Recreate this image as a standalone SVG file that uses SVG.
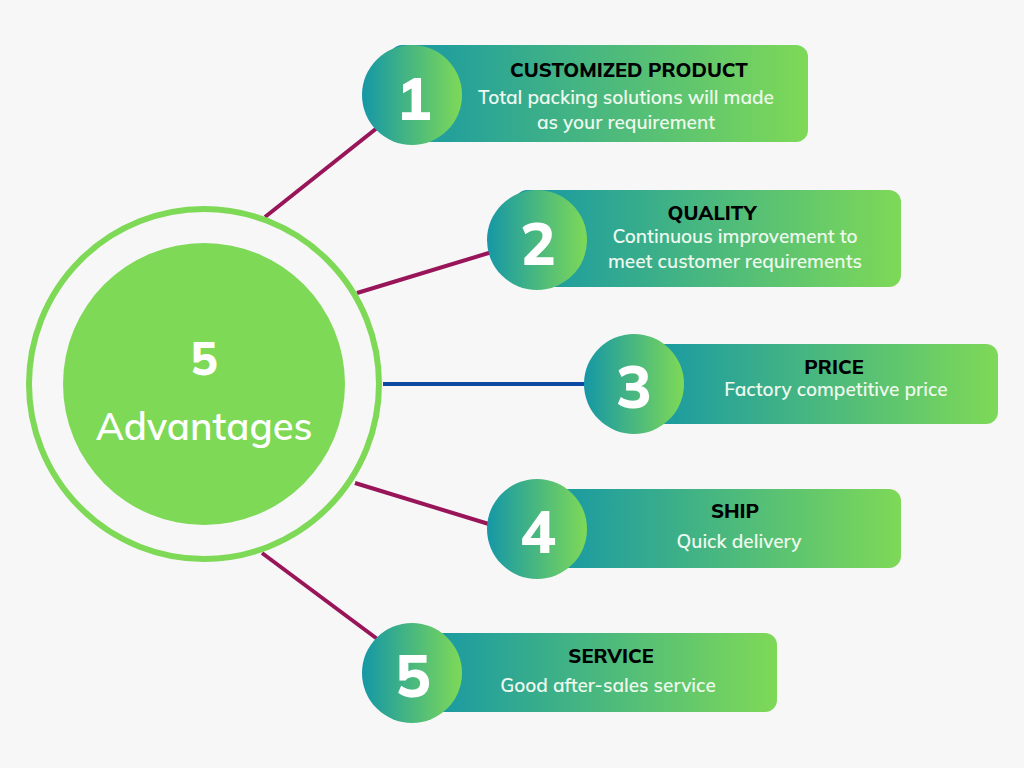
<svg xmlns="http://www.w3.org/2000/svg" width="1024" height="768" viewBox="0 0 1024 768">
<defs>
<linearGradient id="g" x1="0" y1="0" x2="1" y2="0"><stop offset="0" stop-color="#1597a6"/><stop offset="1" stop-color="#7ed957"/></linearGradient>
<style>
.t{font-family:Mulish,"Open Sans","Noto Sans",sans-serif;text-anchor:middle}
.h{font-size:20px;font-weight:800;fill:#000}
.d{font-size:19px;font-weight:600;fill:#eef9ee}
.n{font-size:60px;font-weight:800;fill:#fff}
.c{stroke-width:4;fill:none}
</style>
</defs>
<rect width="1024" height="768" fill="#f7f7f7"/>
<g id="connectors">
<line class="c" stroke="#98155a" x1="265" y1="217" x2="382" y2="124"/>
<line class="c" stroke="#98155a" x1="357" y1="293" x2="492" y2="252"/>
<line class="c" stroke="#0b4aa2" x1="383" y1="384" x2="590" y2="384"/>
<line class="c" stroke="#98155a" x1="355" y1="483" x2="492" y2="525"/>
<line class="c" stroke="#98155a" x1="262" y1="553" x2="380" y2="641"/>
</g>
<g id="center">
<circle cx="204" cy="384" r="175" fill="none" stroke="#7ed957" stroke-width="6"/>
<circle cx="204" cy="384" r="141" fill="#7ed957"/>
<text class="t" x="204" y="375" font-size="46" font-weight="800" fill="#fff">5</text>
<text class="t" x="204" y="440" font-size="38" font-weight="600" fill="#fff">Advantages</text>
</g>
<g id="item1">
<rect x="390" y="45" width="418" height="97" rx="12" fill="url(#g)"/>
<circle cx="412" cy="95" r="50" fill="url(#g)"/>
<text class="t n" x="414" y="120">1</text>
<text class="t h" x="629" y="77">CUSTOMIZED PRODUCT</text>
<text class="t d" x="626" y="104">Total packing solutions will made</text>
<text class="t d" x="626" y="129">as your requirement</text>
</g>
<g id="item2">
<rect x="515" y="190" width="386" height="97" rx="12" fill="url(#g)"/>
<circle cx="537" cy="240" r="50" fill="url(#g)"/>
<text class="t n" x="538" y="265">2</text>
<text class="t h" x="712" y="220">QUALITY</text>
<text class="t d" x="735" y="243">Continuous improvement to</text>
<text class="t d" x="735" y="268">meet customer requirements</text>
</g>
<g id="item3">
<rect x="640" y="344" width="358" height="80" rx="12" fill="url(#g)"/>
<circle cx="634" cy="384" r="50" fill="url(#g)"/>
<text class="t n" x="634" y="408">3</text>
<text class="t h" x="834" y="374">PRICE</text>
<text class="t d" x="836" y="396">Factory competitive price</text>
</g>
<g id="item4">
<rect x="545" y="489" width="356" height="79" rx="12" fill="url(#g)"/>
<circle cx="537" cy="529" r="50" fill="url(#g)"/>
<text class="t n" x="538" y="553">4</text>
<text class="t h" x="735" y="518">SHIP</text>
<text class="t d" x="739" y="548">Quick delivery</text>
</g>
<g id="item5">
<rect x="420" y="633" width="357" height="79" rx="12" fill="url(#g)"/>
<circle cx="412" cy="673" r="50" fill="url(#g)"/>
<text class="t n" x="413" y="697">5</text>
<text class="t h" x="611" y="663">SERVICE</text>
<text class="t d" x="608" y="692">Good after-sales service</text>
</g>
</svg>
